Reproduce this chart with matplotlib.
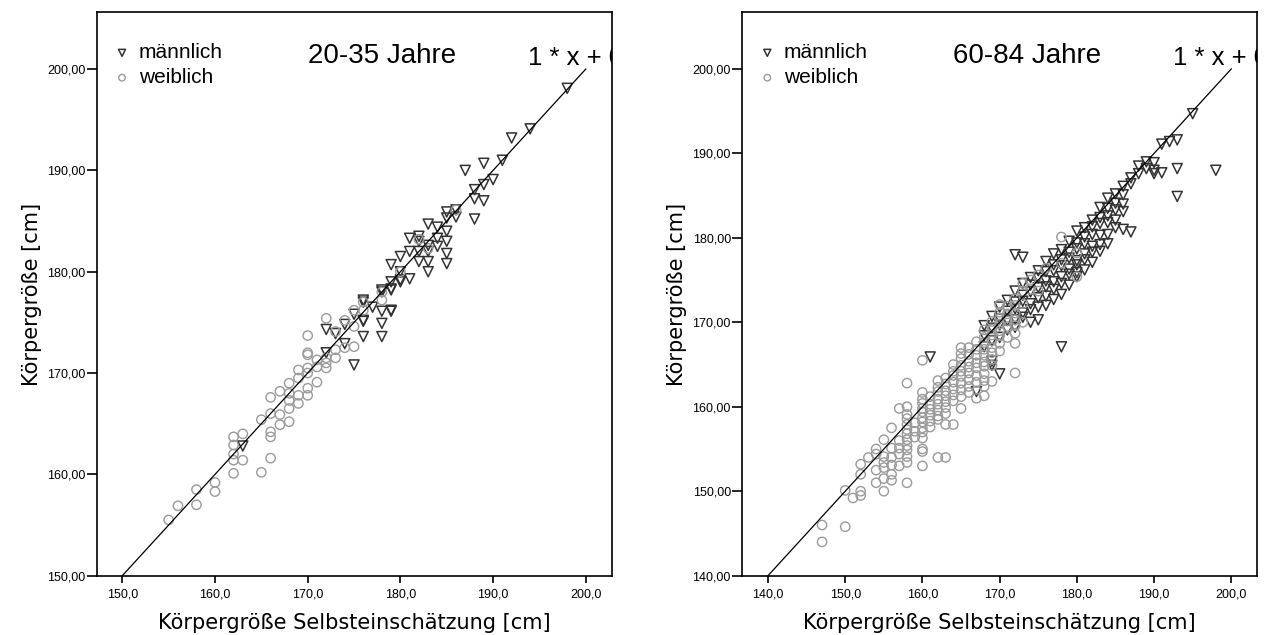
import matplotlib
matplotlib.use('Agg')
import matplotlib.pyplot as plt
from matplotlib.ticker import FuncFormatter, MultipleLocator

# 20-35 Jahre
young_m_x = [163, 172, 172, 173, 174, 174, 175, 175, 176, 176, 176, 176, 176,
             177, 178, 178, 178, 178, 178, 179, 179, 179, 179, 179, 179,
             180, 180, 180, 180, 181, 181, 181, 182, 182, 182, 182,
             183, 183, 183, 183, 183, 184, 184, 184, 185, 185, 185, 185, 185, 185,
             186, 186, 187, 188, 188, 188, 189, 189, 189, 190, 191, 192, 194, 198]
young_m_y = [162.8, 174.3, 172.0, 173.9, 174.8, 172.9, 170.8, 175.8, 177.0, 175.1, 173.6, 177.2, 175.2,
             176.5, 178.0, 176.1, 174.9, 173.6, 178.2, 179.0, 178.3, 176.1, 180.7, 178.2, 176.2,
             179.0, 181.5, 180.0, 179.2, 183.3, 182.0, 179.3, 183.5, 183.0, 182.0, 181.0,
             184.7, 182.6, 182.0, 181.0, 180.0, 184.4, 183.3, 182.5, 185.9, 185.3, 184.0, 183.0, 181.8, 180.8,
             186.1, 185.4, 190.0, 188.1, 187.2, 185.2, 190.7, 188.6, 187.0, 189.1, 191.0, 193.2, 194.1, 198.1]
young_f_x = [155, 156, 158, 158, 160, 160, 162, 162, 162, 162, 162, 163, 163, 165, 165,
             166, 166, 166, 166, 166, 167, 167, 167, 168, 168, 168, 168, 168,
             169, 169, 169, 169, 170, 170, 170, 170, 170, 170, 170, 171, 171, 171,
             172, 172, 172, 172, 173, 173, 173, 174, 174, 175, 175, 175, 176, 176,
             178, 178, 180, 182, 183, 186]
young_f_y = [155.5, 156.9, 158.5, 157.0, 159.2, 158.3, 163.7, 162.9, 162.0, 161.4, 160.1, 164.0, 161.4, 160.2, 165.4,
             161.6, 164.2, 163.7, 166.0, 167.6, 168.2, 165.9, 164.9, 169.0, 168.0, 167.3, 166.5, 165.2,
             170.3, 169.5, 167.8, 167.0, 173.7, 172.0, 171.8, 170.5, 170.0, 168.5, 167.8, 171.3, 170.6, 169.1,
             175.4, 171.0, 170.5, 171.5, 172.3, 171.5, 174.1, 172.5, 175.2, 172.6, 174.6, 176.2, 176.2, 177.0,
             177.2, 178.0, 180.0, 183.2, 182.3, 186.1]

# 60-84 Jahre (grouped by self-estimate column)
old_m_x = [161, 167,
           168, 168, 168,
           169, 169, 169, 169, 169,
           170, 170, 170, 170, 170,
           171, 171, 171, 171,
           172, 172, 172, 172, 172, 172,
           173, 173, 173, 173, 173, 173,
           174, 174, 174, 174, 174, 174,
           175, 175, 175, 175, 175, 175,
           176, 176, 176, 176, 176, 176,
           177, 177, 177, 177, 177, 177,
           178, 178, 178, 178, 178, 178, 178,
           179, 179, 179, 179, 179, 179,
           180, 180, 180, 180, 180, 180, 180,
           181, 181, 181, 181, 181, 181,
           182, 182, 182, 182, 182, 182,
           183, 183, 183, 183, 183, 183,
           184, 184, 184, 184, 184, 184,
           185, 185, 185, 185, 185,
           186, 186, 186, 186, 186,
           187, 187, 187,
           188, 188, 189, 189, 190, 190, 190, 191, 191, 192, 193, 193, 193, 195, 198]
old_m_y = [165.9, 161.8,
           169.6, 168.4, 167.1,
           170.7, 169.3, 167.8, 165.4, 164.9,
           171.8, 170.4, 169.7, 168.2, 163.9,
           172.6, 171.3, 170.2, 169.1,
           178.0, 173.7, 172.4, 171.6, 170.3, 169.4,
           177.7, 174.6, 173.2, 172.5, 171.1, 170.6,
           175.3, 174.4, 173.6, 172.2, 171.5, 170.0,
           176.1, 175.2, 174.1, 172.9, 171.8, 170.3,
           177.2, 176.0, 174.9, 174.2, 173.1, 172.0,
           178.1, 176.8, 176.1, 174.8, 173.9, 172.7,
           178.6, 177.4, 176.7, 175.4, 174.6, 173.3, 167.1,
           179.6, 178.3, 177.6, 176.3, 175.7, 174.4,
           180.8, 179.4, 178.7, 177.3, 176.8, 175.9, 175.4,
           181.2, 180.1, 179.3, 178.1, 177.4, 176.2,
           182.1, 181.3, 180.4, 179.0, 178.3, 177.1,
           183.6, 182.4, 181.7, 180.3, 179.2, 178.4,
           184.7, 183.5, 182.6, 181.8, 180.4, 179.3,
           185.2, 184.1, 183.3, 182.1, 181.2,
           186.1, 185.1, 184.0, 183.1, 181.0,
           187.1, 186.4, 180.7,
           188.5, 187.6, 189.0, 188.2, 188.9, 188.0, 187.6, 191.1, 187.7, 191.4, 191.6, 188.2, 184.9, 194.7, 188.0]
old_f_x = [147, 147, 150, 150, 151,
           152, 152, 152, 152, 153,
           154, 154, 154, 154,
           155, 155, 155, 155, 155, 155,
           156, 156, 156, 156, 156, 156,
           157, 157, 157, 157, 157,
           158, 158, 158, 158, 158, 158, 158, 158, 158, 158, 158, 158, 158,
           159, 159, 159,
           160, 160, 160, 160, 160, 160, 160, 160, 160, 160, 160, 160, 160, 160,
           161, 161, 161, 161, 161, 161,
           162, 162, 162, 162, 162, 162, 162, 162, 162,
           163, 163, 163, 163, 163, 163, 163, 163, 163,
           164, 164, 164, 164, 164, 164, 164, 164,
           165, 165, 165, 165, 165, 165, 165, 165, 165, 165,
           166, 166, 166, 166, 166, 166, 166, 166,
           167, 167, 167, 167, 167, 167, 167, 167,
           168, 168, 168, 168, 168, 168, 168, 168, 168, 168, 168,
           169, 169, 169, 169, 169, 169, 169, 169, 169,
           170, 170, 170, 170, 170, 170, 170, 170,
           171, 171, 171, 171, 171,
           172, 172, 172, 172, 172, 172, 172, 172,
           173, 173, 173, 173,
           174, 174, 175, 175, 176, 178, 178, 180, 180]
old_f_y = [146.0, 144.0, 150.1, 145.8, 149.2,
           153.2, 152.0, 150.0, 149.5, 154.0,
           155.0, 154.4, 152.5, 151.0,
           156.1, 154.1, 153.4, 152.8, 151.5, 150.0,
           157.5, 155.1, 154.0, 153.1, 152.0, 151.3,
           159.8, 156.0, 155.1, 154.4, 153.0,
           162.8, 160.0, 159.1, 158.6, 157.9, 157.3, 156.8, 156.1, 155.4, 154.9, 154.1, 153.4, 151.0,
           158.1, 157.1, 156.4,
           165.5, 161.7, 160.9, 160.4, 159.8, 159.4, 158.7, 158.2, 157.5, 157.0, 156.3, 155.0, 154.7, 153.0,
           161.2, 160.3, 159.7, 159.0, 158.3, 157.6,
           163.1, 162.3, 161.8, 160.9, 160.3, 159.6, 158.9, 158.5, 154.0,
           163.4, 162.7, 161.9, 161.3, 160.6, 159.9, 159.2, 157.9, 154.0,
           165.0, 164.2, 163.7, 162.9, 162.1, 161.4, 160.7, 157.9,
           167.0, 166.3, 165.7, 164.9, 164.2, 163.6, 162.8, 162.0, 161.2, 159.8,
           167.0, 166.2, 165.4, 164.7, 164.0, 163.2, 162.4, 161.7,
           167.7, 166.8, 166.1, 165.2, 164.6, 163.7, 162.9, 161.0,
           169.1, 168.2, 167.6, 166.8, 166.1, 165.3, 164.8, 163.9, 163.1, 162.4, 161.3,
           170.1, 169.2, 168.5, 167.8, 167.0, 166.4, 165.6, 164.9, 163.0,
           172.1, 171.2, 170.5, 169.8, 169.0, 168.4, 167.5, 166.6,
           171.9, 171.0, 170.2, 169.5, 168.2,
           172.8, 172.0, 171.1, 170.3, 169.6, 168.7, 167.5, 164.0,
           174.6, 173.7, 172.2, 170.0,
           175.0, 173.9, 175.6, 173.7, 176.4, 180.1, 177.0, 178.2, 175.4]

panels = [
    ('20-35 Jahre', young_m_x, young_m_y, young_f_x, young_f_y, (147.24, 202.8), (150, 205.6), 150),
    ('60-84 Jahre', old_m_x, old_m_y, old_f_x, old_f_y, (136.63, 203.3), (140, 206.7), 140),
]
positions = [[0.0764, 0.0934, 0.4068, 0.8872], [0.5861, 0.0934, 0.4066, 0.8872]]

fig = plt.figure(figsize=(12.66, 6.35), dpi=100)
tickfont = 'Liberation Sans'

for pos, (title, mx, my, fx, fy, xl, yl, lo) in zip(positions, panels):
    ax = fig.add_axes(pos)
    hm = ax.scatter(mx, my, marker='v', s=52, facecolors='none', edgecolors='#333333',
                    linewidths=1.1, label='männlich', zorder=2)
    hf = ax.scatter(fx, fy, marker='o', s=45, facecolors='none', edgecolors='#9a9a9a',
                    linewidths=1.0, label='weiblich', zorder=3)
    ax.plot([lo, 200], [lo, 200], color='black', lw=0.9, zorder=4)
    ax.set_xlim(*xl)
    ax.set_ylim(*yl)
    ax.xaxis.set_major_locator(MultipleLocator(10))
    ax.yaxis.set_major_locator(MultipleLocator(10))
    ax.xaxis.set_major_formatter(FuncFormatter(lambda v, p: f'{v:.1f}'.replace('.', ',')))
    ax.yaxis.set_major_formatter(FuncFormatter(lambda v, p: f'{v:.2f}'.replace('.', ',')))
    ax.tick_params(axis='x', direction='out', length=5, width=1.2, pad=4, labelsize=9)
    ax.tick_params(axis='y', direction='out', length=7, width=1.2, pad=1, labelsize=9)
    for lab in ax.get_xticklabels() + ax.get_yticklabels():
        lab.set_family(tickfont)
    ax.set_xticks([t for t in ax.get_xticks() if xl[0] <= t <= 200])
    ax.set_yticks([t for t in ax.get_yticks() if yl[0] <= t <= 200])
    for sp in ax.spines.values():
        sp.set_linewidth(1.2)
    ax.set_xlabel('Körpergröße Selbsteinschätzung [cm]', fontsize=15, family='DejaVu Sans', labelpad=9)
    ax.set_ylabel('Körpergröße [cm]', fontsize=15, family='DejaVu Sans', labelpad=4)
    ax.text(0.41, 0.9105, title, transform=ax.transAxes, fontsize=20, family='Liberation Sans',
            ha='left', va='baseline')
    ax.text(0.838, 0.906, '1 * x + 0', transform=ax.transAxes, fontsize=18.5, family='Liberation Sans',
            ha='left', va='baseline', clip_on=True)
    ax.legend(handles=[hm, hf], loc='upper left', bbox_to_anchor=(0.035, 0.945), frameon=False,
              prop={'family': 'Liberation Sans', 'size': 15}, markerscale=0.7, handlelength=0.7,
              handletextpad=0.45, labelspacing=0.28, borderaxespad=0, borderpad=0)

fig.savefig('out.png', dpi=100)
